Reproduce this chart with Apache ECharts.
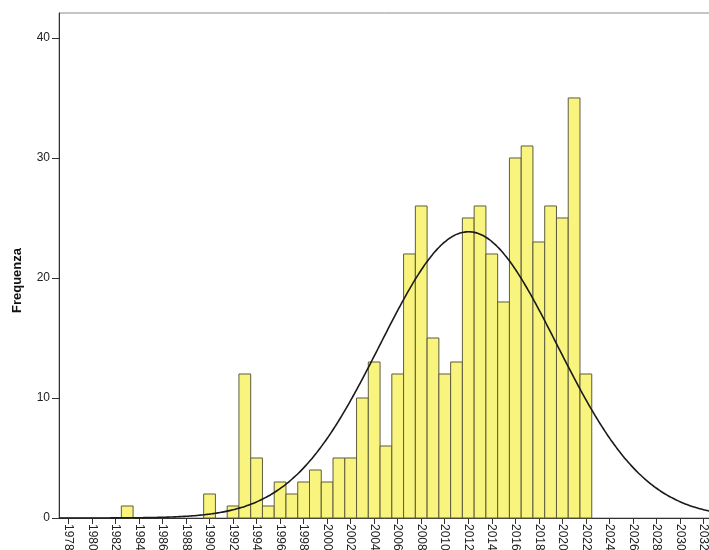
<!DOCTYPE html>
<html>
<head>
<meta charset="utf-8">
<script src="https://cdn.jsdelivr.net/npm/echarts@6/dist/echarts.min.js"></script>
<style>
html,body{margin:0;padding:0;background:#fff;}
#chart{width:709px;height:550px;}
</style>
</head>
<body>
<div id="chart"></div>
<script>
// Histogram bins (one per year) and their frequencies
const years  = [1983, 1990, 1992, 1993, 1994, 1995, 1996, 1997, 1998, 1999, 2000, 2001, 2002, 2003, 2004, 2005, 2006, 2007, 2008, 2009, 2010, 2011, 2012, 2013, 2014, 2015, 2016, 2017, 2018, 2019, 2020, 2021, 2022];
const counts = [1,    2,    1,    12,   5,    1,    3,    2,    3,    4,    3,    5,    5,    10,   13,   6,    12,   22,   26,   15,   12,   13,   25,   26,   22,   18,   30,   31,   23,   26,   25,   35,   12];
const xTicks = [1978, 1980, 1982, 1984, 1986, 1988, 1990, 1992, 1994, 1996, 1998, 2000, 2002, 2004, 2006, 2008, 2010, 2012, 2014, 2016, 2018, 2020, 2022, 2024, 2026, 2028, 2030, 2032];
const yTicks = [0, 10, 20, 30, 40];
const yAxisTitle = 'Frequenza';

// Fitted normal curve from the data's mean and standard deviation
let n = 0, s = 0, s2 = 0;
years.forEach((y, i) => { n += counts[i]; s += y * counts[i]; s2 += y * y * counts[i]; });
const mean = s / n;
const sd = Math.sqrt((s2 - n * mean * mean) / (n - 1));
const xMin = 1977.2, xMax = 2034;
const curve = [];
for (let x = xMin; x <= xMax + 1e-9; x += 0.2) {
  const z = (x - mean) / sd;
  curve.push([x, n * 1 / (sd * Math.sqrt(2 * Math.PI)) * Math.exp(-0.5 * z * z)]);
}
const barData = years.map((y, i) => [y, counts[i]]);

const chart = echarts.init(document.getElementById('chart'), null, {renderer: 'canvas'});
const font = '"Liberation Sans", Arial, sans-serif';
chart.setOption({
  animation: false,
  backgroundColor: '#ffffff',
  grid: {
    left: 59, top: 13, width: 668, height: 505,
    containLabel: false, outerBoundsMode: 'none',
    show: true, borderColor: '#8a8a8a', borderWidth: 1, backgroundColor: 'transparent'
  },
  xAxis: {
    type: 'value', min: xMin, max: xMax,
    axisLine: {show: true, lineStyle: {color: '#333', width: 1}},
    axisTick: {show: true, length: 6, customValues: xTicks, lineStyle: {color: '#333'}},
    axisLabel: {customValues: xTicks, rotate: -90, margin: 6, fontSize: 12, color: '#222', fontFamily: font,
      formatter: function (v) { return String(Math.round(v)); }},
    splitLine: {show: false}
  },
  yAxis: {
    type: 'value', min: 0, max: 42.08,
    name: yAxisTitle, nameLocation: 'middle', nameGap: 35,
    nameTextStyle: {fontSize: 13, fontWeight: 'bold', color: '#111', fontFamily: font, padding: [0, 30, 0, 0]},
    axisLine: {show: true, lineStyle: {color: '#333', width: 1}},
    axisTick: {show: true, length: 7, customValues: yTicks, lineStyle: {color: '#333'}},
    axisLabel: {customValues: yTicks, margin: 9, fontSize: 12, color: '#222', fontFamily: font},
    splitLine: {show: false}
  },
  series: [
    {
      type: 'custom',
      data: barData,
      encode: {x: 0, y: 1},
      z: 2,
      renderItem: function (params, api) {
        const x = api.value(0), y = api.value(1);
        const p0 = api.coord([x - 0.5, y]);
        const p1 = api.coord([x + 0.5, 0]);
        return {
          type: 'rect',
          shape: {x: p0[0], y: p0[1], width: p1[0] - p0[0], height: p1[1] - p0[1]},
          style: {fill: '#F8F47E', stroke: '#5E5C3E', lineWidth: 1}
        };
      }
    },
    {
      type: 'line',
      data: curve,
      smooth: true,
      symbol: 'none',
      z: 3,
      lineStyle: {color: '#1a1a1a', width: 1.6}
    }
  ]
});
</script>
</body>
</html>
